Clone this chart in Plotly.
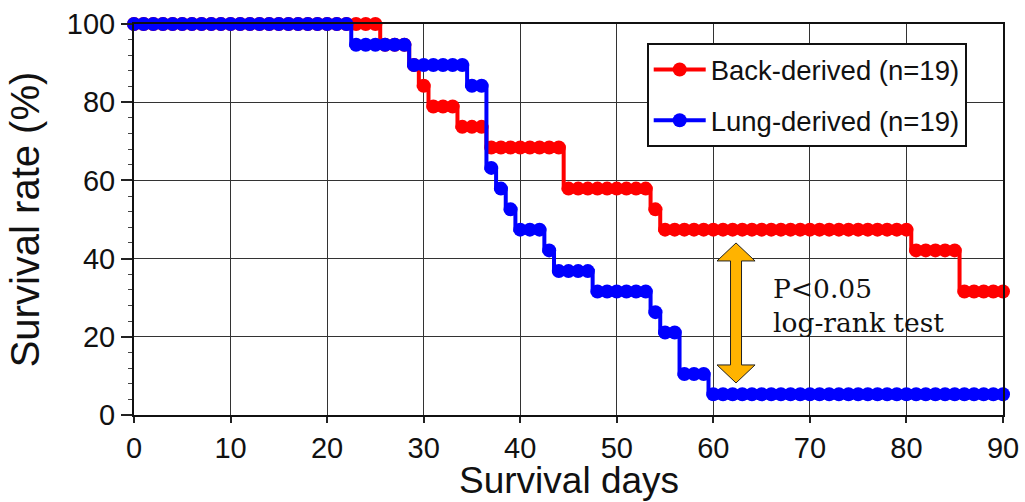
import plotly.graph_objects as go

# ---- data ----
days = [0, 1, 2, 3, 4, 5, 6, 7, 8, 9, 10, 11, 12, 13, 14, 15, 16, 17, 18, 19,
        20, 21, 22, 23, 24, 25, 26, 27, 28, 29, 30, 31, 32, 33, 34, 35, 36, 37, 38, 39,
        40, 41, 42, 43, 44, 45, 46, 47, 48, 49, 50, 51, 52, 53, 54, 55, 56, 57, 58, 59,
        60, 61, 62, 63, 64, 65, 66, 67, 68, 69, 70, 71, 72, 73, 74, 75, 76, 77, 78, 79,
        80, 81, 82, 83, 84, 85, 86, 87, 88, 89, 90]

back_derived = [100, 100, 100, 100, 100, 100, 100, 100, 100, 100,
                100, 100, 100, 100, 100, 100, 100, 100, 100, 100,
                100, 100, 100, 100, 100, 100, 94.7, 94.7, 94.7, 89.5,
                84.2, 78.9, 78.9, 78.9, 73.7, 73.7, 73.7, 68.4, 68.4, 68.4,
                68.4, 68.4, 68.4, 68.4, 68.4, 57.9, 57.9, 57.9, 57.9, 57.9,
                57.9, 57.9, 57.9, 57.9, 52.6, 47.4, 47.4, 47.4, 47.4, 47.4,
                47.4, 47.4, 47.4, 47.4, 47.4, 47.4, 47.4, 47.4, 47.4, 47.4,
                47.4, 47.4, 47.4, 47.4, 47.4, 47.4, 47.4, 47.4, 47.4, 47.4,
                47.4, 42.1, 42.1, 42.1, 42.1, 42.1, 31.6, 31.6, 31.6, 31.6,
                31.6]

lung_derived = [100, 100, 100, 100, 100, 100, 100, 100, 100, 100,
                100, 100, 100, 100, 100, 100, 100, 100, 100, 100,
                100, 100, 100, 94.7, 94.7, 94.7, 94.7, 94.7, 94.7, 89.5,
                89.5, 89.5, 89.5, 89.5, 89.5, 84.2, 84.2, 63.2, 57.9, 52.6,
                47.4, 47.4, 47.4, 42.1, 36.8, 36.8, 36.8, 36.8, 31.6, 31.6,
                31.6, 31.6, 31.6, 31.6, 26.3, 21.1, 21.1, 10.5, 10.5, 10.5,
                5.3, 5.3, 5.3, 5.3, 5.3, 5.3, 5.3, 5.3, 5.3, 5.3,
                5.3, 5.3, 5.3, 5.3, 5.3, 5.3, 5.3, 5.3, 5.3, 5.3,
                5.3, 5.3, 5.3, 5.3, 5.3, 5.3, 5.3, 5.3, 5.3, 5.3,
                5.3]

series_names = ["Back-derived (n=19)", "Lung-derived (n=19)"]
x_ticks = [0, 10, 20, 30, 40, 50, 60, 70, 80, 90]
y_ticks = [0, 20, 40, 60, 80, 100]
x_title = "Survival days"
y_title = "Survival rate (%)"

# ---- annotation geometry ----
ARROW_X = 62.35
ARROW_TOP = 44.0
ARROW_BOTTOM = 8.2
HEAD_HALF_W = 1.97
SHAFT_HALF_W = 0.57
HEAD_LEN = 4.6
TEXT_X = 66.0
TEXT_Y = 27.9

FONT = "Liberation Sans, Arial, sans-serif"
MARGIN_B = 87
PLOT_H = 502 - 24 - MARGIN_B

fig = go.Figure()
fig.add_trace(go.Scatter(
    x=days, y=back_derived, name=series_names[0], mode="lines+markers",
    line=dict(color="#FF0000", width=4, shape="hvh"),
    marker=dict(size=14, color="#FF0000"),
    cliponaxis=False, legendgroup="g1"))
fig.add_trace(go.Scatter(
    x=days, y=lung_derived, name=series_names[1], mode="lines+markers",
    line=dict(color="#0000FF", width=4, shape="hvh"),
    marker=dict(size=14, color="#0000FF"),
    cliponaxis=False, legendgroup="g2"))

hx, hw, sw = ARROW_X, HEAD_HALF_W, SHAFT_HALF_W
tb = ARROW_TOP - HEAD_LEN
bb = ARROW_BOTTOM + HEAD_LEN
path = (f"M {hx},{ARROW_TOP} L {hx+hw},{tb} L {hx+sw},{tb} L {hx+sw},{bb} "
        f"L {hx+hw},{bb} L {hx},{ARROW_BOTTOM} L {hx-hw},{bb} L {hx-sw},{bb} "
        f"L {hx-sw},{tb} L {hx-hw},{tb} Z")
fig.add_shape(type="path", path=path, xref="x", yref="y",
              fillcolor="#FFB300", line=dict(color="#222222", width=1))

fig.add_annotation(x=TEXT_X, y=TEXT_Y, xref="x", yref="y",
                   text="P&lt;0.05<br>log-rank test", showarrow=False,
                   xanchor="left", yanchor="middle", align="left",
                   font=dict(family="DejaVu Serif, serif", size=26.5, color="#111111"))

# x-axis title as an annotation, sitting on the bottom edge of the figure
fig.add_annotation(x=0.5, y=-MARGIN_B / PLOT_H, xref="paper", yref="paper",
                   text=x_title, showarrow=False,
                   xanchor="center", yanchor="bottom", borderpad=0,
                   font=dict(family=FONT, size=37, color="#111111"))

axis_common = dict(showline=True, linecolor="#111111", linewidth=2, mirror=True,
                   showgrid=True, gridcolor="#333333", gridwidth=1.4,
                   ticks="outside", tickcolor="#222222", tickwidth=1.5,
                   tickfont=dict(size=29, family=FONT, color="#111111"),
                   zeroline=False, automargin=False)

fig.update_xaxes(range=[0, 90], tickvals=x_ticks, ticklen=6, **axis_common)
fig.update_yaxes(range=[0, 100], tickvals=y_ticks, ticklen=11,
                 minor=dict(dtick=4, tick0=0, ticks="outside", ticklen=4,
                            tickcolor="#444444", tickwidth=1, showgrid=False),
                 title=dict(text=y_title, font=dict(size=40, family=FONT, color="#111111")),
                 **axis_common)

fig.update_layout(
    width=1025, height=502,
    margin=dict(l=134, r=22, t=24, b=MARGIN_B),
    plot_bgcolor="white", paper_bgcolor="white",
    font=dict(family=FONT, color="#111111"),
    legend=dict(x=0.590, y=0.951, xanchor="left", yanchor="top",
                bgcolor="white", bordercolor="#111111", borderwidth=2,
                font=dict(size=27.5, family=FONT, color="#111111"),
                tracegroupgap=12, itemwidth=52),
)

fig.write_html("out.html")
